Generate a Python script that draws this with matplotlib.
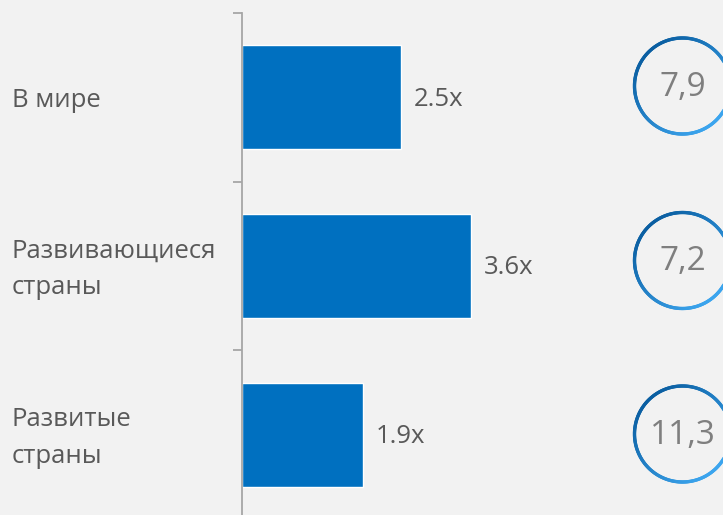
import numpy as np
import matplotlib
matplotlib.use("Agg")
import matplotlib.pyplot as plt
from matplotlib.collections import LineCollection
from matplotlib.colors import to_rgb

plt.rcParams["font.family"] = ["Open Sans", "DejaVu Sans"]

categories = ["В мире", "Развивающиеся\nстраны", "Развитые\nстраны"]
growth = [2.5, 3.6, 1.9]
growth_labels = ["2.5x", "3.6x", "1.9x"]
badge_values = ["7,9", "7,2", "11,3"]

BG = "#f2f2f2"
BAR_COLOR = "#0070c0"
TEXT_COLOR = "#595959"
AXIS_COLOR = "#a6a6a6"
RING_DARK = "#0b5fa2"
RING_LIGHT = "#3ca5ee"

W, H = 723, 515


def draw_ring(ax, cx, cy, r, lw=2.4, n=240):
    # circle outline shaded from top-left (dark) to bottom-right (light)
    theta = np.linspace(0, 2 * np.pi, n + 1)
    xs = cx + r * np.cos(theta)
    ys = cy - r * np.sin(theta)
    pts = np.column_stack([xs, ys])
    segs = np.stack([pts[:-1], pts[1:]], axis=1)
    mid = (theta[:-1] + theta[1:]) / 2
    t = ((np.cos(mid) - np.sin(mid)) / np.sqrt(2) + 1) / 2
    c0 = np.array(to_rgb(RING_DARK))
    c1 = np.array(to_rgb(RING_LIGHT))
    cols = c0[None, :] * (1 - t[:, None]) + c1[None, :] * t[:, None]
    lc = LineCollection(segs, colors=cols, linewidths=lw, capstyle="round")
    ax.add_collection(lc)


def main():
    fig = plt.figure(figsize=(W / 100, H / 100), dpi=100)
    fig.patch.set_facecolor(BG)

    # bar axes: left edge is the category axis line
    left = 242 / W
    bottom = (H - 519) / H
    top = (H - 13) / H
    ax = fig.add_axes([left, bottom, 1 - left, top - bottom])
    ax.set_facecolor("none")

    y = np.arange(len(categories)) + 0.5
    ax.barh(y, growth, height=0.615, color=BAR_COLOR,
            edgecolor="white", linewidth=1.0)
    for yi, v, lab in zip(y, growth, growth_labels):
        ax.text(v + 0.21, yi + 0.01, lab, va="center", ha="left",
                fontsize=18.5, color=TEXT_COLOR)

    ax.set_xlim(0, (W - 242) / 63.5)
    ax.set_ylim(len(categories), 0)
    ax.set_xticks([])
    ax.set_yticks(np.arange(len(categories) + 1))
    ax.set_yticklabels([])
    ax.tick_params(axis="y", direction="out", length=6.5, width=1.3,
                   color=AXIS_COLOR)
    for side in ["top", "right", "bottom"]:
        ax.spines[side].set_visible(False)
    ax.spines["left"].set_color(AXIS_COLOR)
    ax.spines["left"].set_linewidth(1.3)

    for yi, name in zip(y, categories):
        ax.text(-230 / 63.5, yi + 0.02, name, va="center", ha="left",
                fontsize=18.5, color=TEXT_COLOR, linespacing=1.6)

    # overlay in pixel coordinates for the round badges
    ov = fig.add_axes([0, 0, 1, 1])
    ov.set_xlim(0, W)
    ov.set_ylim(H, 0)
    ov.axis("off")
    ov.patch.set_alpha(0)

    centers_y = [86, 260.5, 434]
    for cy, val in zip(centers_y, badge_values):
        draw_ring(ov, 682.5, cy, 48)
        ov.text(682.5, cy + 1, val, ha="center", va="center",
                fontsize=24, color="#7f7f7f")

    fig.savefig("out.png", dpi=100, facecolor=BG)


if __name__ == "__main__":
    main()
